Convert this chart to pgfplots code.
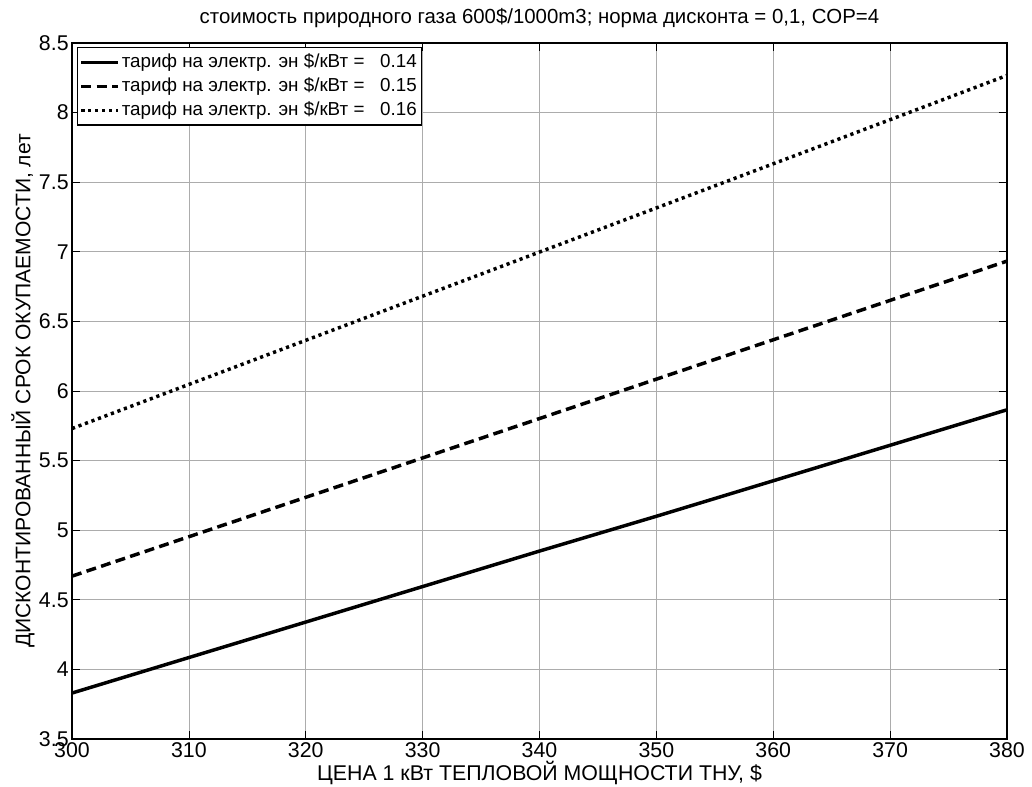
\documentclass[border=0pt]{standalone}
\usepackage{pgfplots}
\pgfplotsset{compat=1.18}
\usepackage{fontspec}
\setmainfont{Liberation Sans}
\begin{document}
\begin{tikzpicture}[x=0.75pt,y=0.75pt]
\useasboundingbox (-72,-48) rectangle (960,739);
\begin{axis}[
  at={(0,0)}, anchor=south west,
  scale only axis,
  width=701.25pt, height=522pt,
  xmin=300, xmax=380, ymin=3.5, ymax=8.5,
  xtick={300,310,...,380},
  ytick={3.5,4,...,8.5},
  yticklabels={3.5,4,4.5,5,5.5,6,6.5,7,7.5,8,8.5},
  scaled ticks=false,
  /pgf/number format/assume math mode=true,
  /pgf/number format/.cd, fixed, 1000 sep={}, /pgfplots/.cd,
  tick align=inside,
  tick pos=both,
  major tick length=6pt,
  tick style={black, line width=0.5pt},
  grid=major,
  major grid style={gray!65, line width=0.5pt},
  axis line style={black, line width=0.8pt},
  tick label style={font=\fontsize{16}{18}\selectfont},
  yticklabel style={xshift=1pt},
  xticklabel style={yshift=1pt},
  title style={font=\fontsize{15.3}{17}\selectfont, at={(axis description cs:0.5,1.0273)}, anchor=base, yshift=-6pt},
  title={стоимость природного газа 600\$/1000m3; норма дисконта = 0,1, COP=4},
  xlabel={ЦЕНА 1 кВт ТЕПЛОВОЙ МОЩНОСТИ ТНУ, \$},
  ylabel={ДИСКОНТИРОВАННЫЙ СРОК ОКУПАЕМОСТИ, лет},
  xlabel style={font=\fontsize{16}{18}\selectfont, at={(axis description cs:0.5,-0.049)}, anchor=center},
  ylabel style={font=\fontsize{15.8}{18}\selectfont, at={(axis description cs:-0.0524,0.5)}, anchor=center},
  legend style={at={(0.005,0.994)}, anchor=north west, draw=black, line width=0.8pt,
    font=\fontsize{14.1}{16}\selectfont, row sep=0pt, inner xsep=2pt, inner ysep=2pt,
    nodes={inner sep=1.75pt, text height=11pt, text depth=3.5pt}},
  legend cell align=left,
  legend image code/.code={\draw[#1, line width=2.2pt] (0pt,0pt) -- (27.5pt,0pt);},
]
\addplot[black, line width=2.6pt] coordinates {
(300,3.830) (310,4.085) (320,4.340) (330,4.595) (340,4.850) (350,5.100) (360,5.355) (370,5.610) (380,5.865)};
\addlegendentry{тариф на электр. эн \$/кВт =\ \ \ 0.14}
\addplot[black, line width=2.6pt, dash pattern=on 7.5pt off 4pt] coordinates {
(300,4.670) (310,4.953) (320,5.236) (330,5.519) (340,5.802) (350,6.085) (360,6.368) (370,6.651) (380,6.933)};
\addlegendentry{тариф на электр. эн \$/кВт =\ \ \ 0.15}
\addplot[black, line width=2.6pt, dash pattern=on 2.4pt off 2.8pt] coordinates {
(300,5.730) (310,6.047) (320,6.364) (330,6.681) (340,6.998) (350,7.315) (360,7.632) (370,7.949) (380,8.267)};
\addlegendentry{тариф на электр. эн \$/кВт =\ \ \ 0.16}
\end{axis}
\end{tikzpicture}
\end{document}
